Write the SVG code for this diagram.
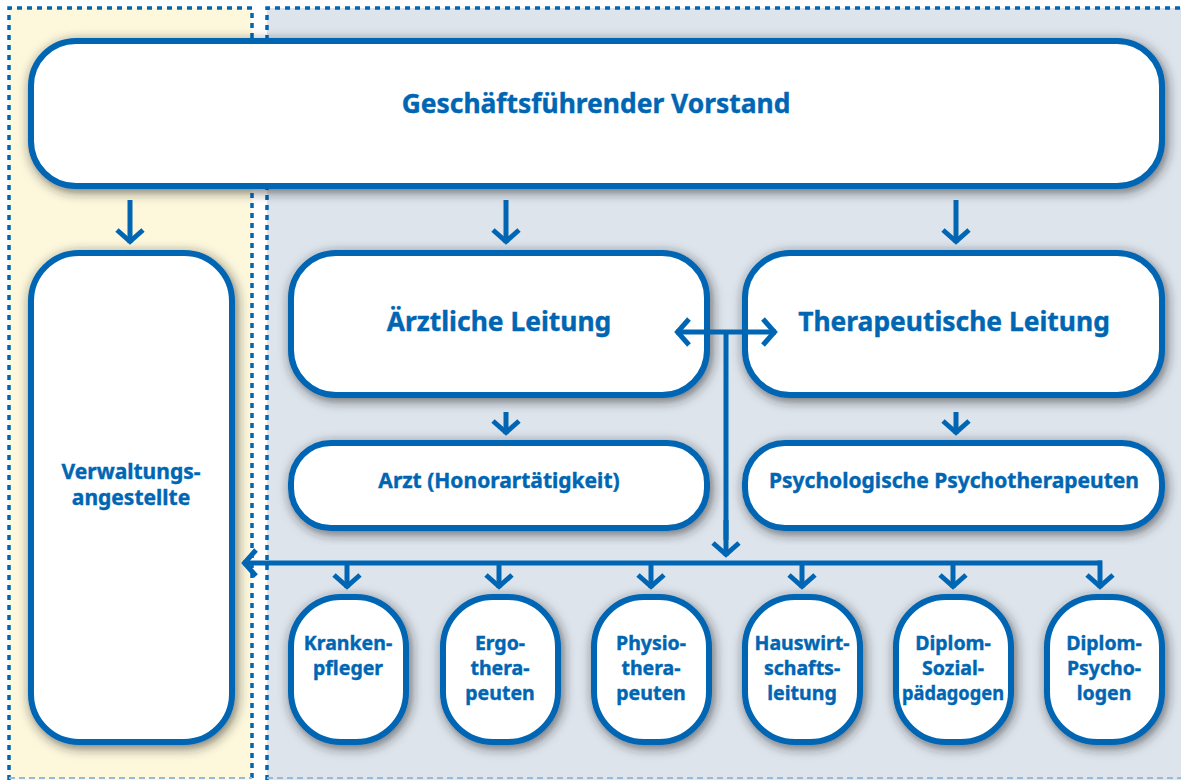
<svg xmlns="http://www.w3.org/2000/svg" width="1181" height="780" viewBox="0 0 1181 780">
<style>
.box{fill:#fff;stroke:#0066b3;stroke-width:6;filter:url(#sh)}
.t{font-family:"Noto Sans","Liberation Sans",sans-serif;font-weight:700;fill:#0066b3;stroke:#0066b3;stroke-width:0.4;text-anchor:middle}
.big{font-size:26.4px}
.md{font-size:21px}
.sm{font-size:19.5px}
.c{fill:none;stroke:#0066b3;stroke-width:5}
.a{marker-end:url(#ah)}
.dot{fill:none;stroke:#0066b3;stroke-width:3.5;stroke-dasharray:5 5}
</style>
<defs>
<filter id="sh" x="-20%" y="-20%" width="140%" height="140%">
<feDropShadow dx="2" dy="3" stdDeviation="6" flood-color="#222" flood-opacity="0.65"/>
</filter>
<marker id="ah" markerUnits="userSpaceOnUse" markerWidth="40" markerHeight="40" viewBox="-20 -20 40 40" refX="0" refY="0" orient="auto" overflow="visible">
<path d="M-13,-13 L-1.5,0 L-13,13" fill="none" stroke="#0066b3" stroke-width="5"/>
</marker>
</defs>
<rect width="1181" height="780" fill="#fff"/>
<rect x="9" y="8" width="243" height="772" fill="#fdf8dc"/>
<rect x="267" y="8" width="914" height="772" fill="#dde4ec"/>
<path class="dot" d="M9,780 V8 H252 V780"/>
<path class="dot" d="M267,780 V8 H1181"/>
<path d="M9,778 H252 M267,778 H1181" fill="none" stroke="#9cb9d4" stroke-width="2" stroke-dasharray="6 4"/>
<g id="vorstand">
<rect class="box" x="31" y="41" width="1131" height="145" rx="45"/>
<text class="t big" x="596" y="113">Geschäftsführender Vorstand</text>
</g>
<g id="verwaltung">
<rect class="box" x="31" y="253" width="201" height="489" rx="48"/>
<text class="t md" x="131" y="479">Verwaltungs-</text>
<text class="t md" x="131" y="505">angestellte</text>
</g>
<g id="aerztliche">
<rect class="box" x="291" y="253" width="416" height="142" rx="45"/>
<text class="t big" x="499" y="331">Ärztliche Leitung</text>
</g>
<g id="therapeutische">
<rect class="box" x="745" y="253" width="417" height="142" rx="45"/>
<text class="t big" x="954" y="331">Therapeutische Leitung</text>
</g>
<g id="arzt">
<rect class="box" x="291" y="443" width="416" height="85" rx="40"/>
<text class="t md" x="499" y="488">Arzt (Honorartätigkeit)</text>
</g>
<g id="psychotherapeuten">
<rect class="box" x="745" y="443" width="417" height="85" rx="40"/>
<text class="t md" x="954" y="488">Psychologische Psychotherapeuten</text>
</g>
<g id="krankenpfleger">
<rect class="box" x="291" y="597" width="115" height="145" rx="50"/>
<text class="t sm" x="348" y="650">Kranken-</text>
<text class="t sm" x="348" y="675">pfleger</text>
</g>
<g id="ergotherapeuten">
<rect class="box" x="443" y="597" width="115" height="145" rx="50"/>
<text class="t sm" x="500" y="650">Ergo-</text>
<text class="t sm" x="500" y="675">thera-</text>
<text class="t sm" x="500" y="700">peuten</text>
</g>
<g id="physiotherapeuten">
<rect class="box" x="594" y="597" width="115" height="145" rx="50"/>
<text class="t sm" x="651" y="650">Physio-</text>
<text class="t sm" x="651" y="675">thera-</text>
<text class="t sm" x="651" y="700">peuten</text>
</g>
<g id="hauswirtschaft">
<rect class="box" x="745" y="597" width="115" height="145" rx="50"/>
<text class="t sm" x="802" y="650">Hauswirt-</text>
<text class="t sm" x="802" y="675">schafts-</text>
<text class="t sm" x="802" y="700">leitung</text>
</g>
<g id="sozialpaedagogen">
<rect class="box" x="896" y="597" width="115" height="145" rx="50"/>
<text class="t sm" x="953" y="650">Diplom-</text>
<text class="t sm" x="953" y="675">Sozial-</text>
<text class="t sm" x="953" y="700" textLength="102" lengthAdjust="spacingAndGlyphs">pädagogen</text>
</g>
<g id="psychologen">
<rect class="box" x="1047" y="597" width="115" height="145" rx="50"/>
<text class="t sm" x="1104" y="650">Diplom-</text>
<text class="t sm" x="1104" y="675">Psycho-</text>
<text class="t sm" x="1104" y="700">logen</text>
</g>
<g id="connectors">
<path class="c a" d="M130,200 V243"/>
<path class="c a" d="M506,200 V243"/>
<path class="c a" d="M956,200 V243"/>
<path class="c a" d="M506,412 V434"/>
<path class="c a" d="M956,412 V434"/>
<path class="c" d="M726,332 V540"/>
<path class="c a" d="M726,332 H676"/>
<path class="c a" d="M726,332 H776"/>
<path class="c a" d="M726,520 V556"/>
<path class="c a" d="M1102,563 H243"/>
<path class="c a" d="M347,563 V588"/>
<path class="c a" d="M499,563 V588"/>
<path class="c a" d="M651,563 V588"/>
<path class="c a" d="M802,563 V588"/>
<path class="c a" d="M953,563 V588"/>
<path class="c a" d="M1100,560.5 V588"/>
</g>
</svg>
